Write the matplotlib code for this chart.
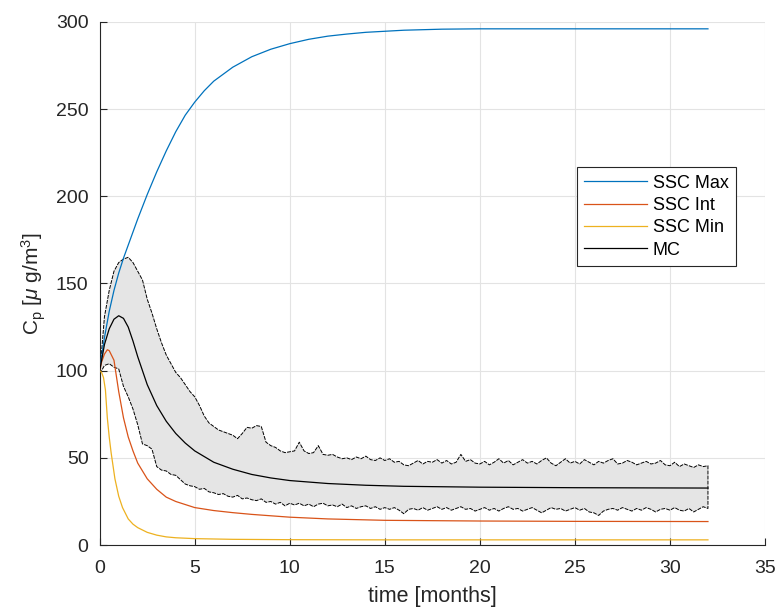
import numpy as np
import matplotlib
matplotlib.use("Agg")
import matplotlib.pyplot as plt

# steady-state curves (months, ug/m3)
max_t = [0, 0.1, 0.25, 0.5, 0.75, 1, 1.25, 1.5, 1.75, 2, 2.5, 3, 3.5, 4, 4.5, 5, 5.5, 6, 7, 8, 9, 10, 11, 12,
         13, 14, 16, 18, 20, 25, 32]
max_v = [100, 108, 119, 134, 146, 156, 164.5, 172, 179.5, 187, 201, 214, 226, 237, 246.5, 254, 260.5, 266,
         274, 280, 284.3, 287.5, 290, 291.8, 293, 294, 295.2, 295.8, 296, 296, 296]

int_t = [0, 0.1, 0.25, 0.4, 0.5, 0.75, 1, 1.25, 1.5, 1.75, 2, 2.5, 3, 3.5, 4, 5, 6, 7, 8, 10, 12, 15, 20, 25, 32]
int_v = [100, 105, 109.5, 112, 111.5, 106, 88, 73, 62, 54, 47, 38, 32, 27.5, 25, 21.5, 19.8, 18.6, 17.6, 16,
         15, 14.2, 13.8, 13.6, 13.5]

min_t = [0, 0.1, 0.2, 0.3, 0.4, 0.5, 0.6, 0.8, 1, 1.2, 1.5, 1.75, 2, 2.5, 3, 3.5, 4, 5, 7, 10, 15, 32]
min_v = [100, 99, 96, 89, 73, 62, 53, 38, 28, 21.5, 15, 12, 10, 7.3, 5.7, 4.7, 4.2, 3.7, 3.3, 3.1, 3.0, 3.0]

# Monte Carlo mean
mc_t = [0, 0.25, 0.5, 0.75, 1, 1.25, 1.5, 1.75, 2, 2.5, 3, 3.5, 4, 4.5, 5, 6, 7, 8, 9, 10, 12, 14, 16, 20, 25, 32]
mc_v = [100, 115, 124, 129.5, 131.5, 130, 125, 117, 108, 92, 80, 71, 64, 58.5, 54, 47.5, 43.5, 40.5, 38.5,
        37, 35.3, 34.3, 33.7, 33.2, 32.9, 32.7]

# Monte Carlo envelope, one value every 0.25 months from 0 to 32
band_t = np.arange(0, 32.01, 0.25)
mc_hi = [98, 131, 146, 157, 162, 164, 165, 162,
         157, 152, 141, 133, 124, 116, 109, 104,
         99, 96, 92, 88, 85, 80, 74, 70,
         68, 66, 65, 64, 63, 61, 64, 67.5,
         67, 68.5, 68, 59, 57, 56, 54, 53,
         53.5, 54, 59, 54, 52.5, 53, 57, 52,
         51.5, 52, 50.5, 49.5, 50, 49, 50.5, 49.5,
         51, 49, 48.5, 50, 48.5, 49.5, 47.5, 48,
         46, 45.5, 47, 48.5, 46.5, 48, 47.5, 49,
         47, 48.5, 46.5, 47.5, 52, 48, 49, 47,
         46.5, 48, 46, 47.5, 49.5, 47, 48.5, 46,
         47.5, 49, 47, 48, 46.5, 48.5, 50, 47,
         45.5, 47.5, 49.5, 47, 48, 46.5, 49, 47.5,
         46, 48, 47, 48.5, 49.5, 46.5, 47, 48.5,
         47.5, 46, 47, 48, 46.5, 47, 48.5, 46,
         45.5, 47.5, 45, 46.5, 45.5, 44.5, 46, 45,
         45.5]
mc_lo = [98, 103, 104, 102, 101, 91, 85, 78,
         69, 58, 57, 55, 45, 43, 42.5, 40.5,
         40, 37.5, 35, 34, 33.5, 32, 32.5, 30.5,
         30, 29, 29.5, 28, 27.5, 28.5, 26.5, 27,
         26, 25.5, 26.5, 24.5, 25, 23.5, 24.5, 22.5,
         24, 23, 24, 22.5, 23.5, 22, 23.5, 24,
         22.5, 23, 22, 23.5, 21.5, 22.5, 21, 22,
         22.5, 21, 22, 20.5, 21.5, 20.5, 21.5, 20,
         18, 20.5, 21, 20, 21.5, 20, 21, 22,
         20.5, 21.5, 20, 21, 22, 20.5, 21, 19.5,
         20.5, 21.5, 20, 21, 19.5, 21, 22, 20.5,
         21, 19.5, 20.5, 21.5, 20, 18.5, 20, 21.5,
         20.5, 21, 19.5, 20.5, 21.5, 20, 21, 19,
         18.5, 17, 19.5, 20.5, 21, 20, 21.5, 20.5,
         19.5, 21, 20, 21.5, 20.5, 19, 20.5, 21,
         20, 21.5, 20, 19.5, 21, 19, 20.5, 22,
         21]

plt.rcParams['font.family'] = ['Liberation Sans', 'DejaVu Sans']
plt.rcParams['mathtext.fontset'] = 'custom'
plt.rcParams['mathtext.rm'] = 'Liberation Sans'
plt.rcParams['mathtext.it'] = 'Liberation Sans:italic'

fig = plt.figure(figsize=(7.79, 6.07), dpi=100)
ax = fig.add_axes([0.128, 0.102, 0.854, 0.862])

axis_col = '#262626'

# shaded envelope with dashed outline (closed polygon, like MATLAB fill)
poly_t = np.concatenate([band_t, band_t[::-1], band_t[:1]])
poly_v = np.concatenate([mc_hi, mc_lo[::-1], mc_hi[:1]])
ax.fill(poly_t, poly_v, facecolor='#e5e5e5', edgecolor='none', zorder=1)
ax.plot(poly_t, poly_v, color='black', lw=0.7, dashes=(4, 1.2), zorder=2)

ax.plot(max_t, max_v, color='#0072BD', lw=0.9, label='SSC Max', zorder=3)
ax.plot(int_t, int_v, color='#D95319', lw=0.9, label='SSC Int', zorder=3)
ax.plot(min_t, min_v, color='#EDB120', lw=0.9, label='SSC Min', zorder=3)
ax.plot(mc_t, mc_v, color='black', lw=0.9, label='MC', zorder=4)

ax.set_xlim(0, 35)
ax.set_ylim(0, 300)
ax.set_xticks(np.arange(0, 36, 5))
ax.set_yticks(np.arange(0, 301, 50))
ax.grid(True, color='#e3e3e3', lw=0.8)
ax.set_axisbelow(True)
for side in ['top', 'right']:
    ax.spines[side].set_visible(False)
for side in ['left', 'bottom']:
    ax.spines[side].set_color(axis_col)
    ax.spines[side].set_linewidth(0.8)
ax.tick_params(direction='in', length=5, width=0.8, color=axis_col, labelcolor=axis_col, labelsize=14)
ax.tick_params(axis='x', pad=10.5)
ax.tick_params(axis='y', pad=8)

ax.set_xlabel('time [months]', fontsize=15.5, color=axis_col, labelpad=7)
ax.set_ylabel(r'C$_{\rm p}$ [$\mu$ g/m$^{\rm 3}$]', fontsize=15, color=axis_col, labelpad=6)

leg = ax.legend(loc='upper left', bbox_to_anchor=(0.717, 0.722), fontsize=13, frameon=True,
                fancybox=False, framealpha=1, edgecolor=axis_col, handlelength=3.5,
                handletextpad=0.3, labelspacing=0.3, borderpad=0.4, borderaxespad=0)
leg.get_frame().set_linewidth(0.8)
for h in leg.get_lines():
    h.set_linewidth(0.9)

fig.savefig('out.png', dpi=100)
